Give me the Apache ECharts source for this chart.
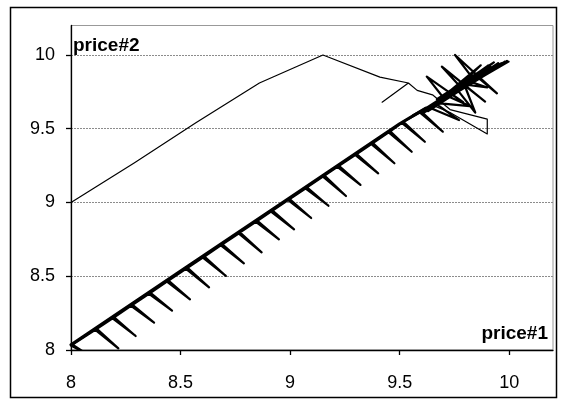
<!DOCTYPE html>
<html>
<head>
<meta charset="utf-8">
<script src="https://cdn.jsdelivr.net/npm/echarts@6/dist/echarts.min.js"></script>
<style>
html,body{margin:0;padding:0;background:#fff;}
#c{width:562px;height:400px;}
</style>
</head>
<body>
<div id="c"></div>
<script>
// axis ticks
var xTicks = [8, 8.5, 9, 9.5, 10];
var yTicks = [8, 8.5, 9, 9.5, 10];
var xName = 'price#1';
var yName = 'price#2';

// path A (upper thin line): price#1 and price#2 values
var price1A = [8.0, 8.29, 8.57, 8.86, 9.15, 9.41, 9.54, 9.42, 9.54, 9.58, 9.65, 9.73, 9.90, 9.90, 9.73, 9.65];
var price2A = [9.0, 9.27, 9.54, 9.81, 10.0, 9.85, 9.81, 9.68, 9.81, 9.76, 9.73, 9.63, 9.565, 9.465, 9.61, 9.66];

// path B (diagonal with whiskers and top-right cluster)
var price1B = [
  8.000, 8.070, 8.007,
  8.111, 8.216, 8.118,
  8.190, 8.295, 8.197,
  8.274, 8.379, 8.281,
  8.356, 8.461, 8.363,
  8.438, 8.543, 8.445,
  8.525, 8.630, 8.532,
  8.602, 8.707, 8.609,
  8.684, 8.789, 8.691,
  8.765, 8.870, 8.772,
  8.844, 8.949, 8.851,
  8.913, 9.018, 8.920,
  8.991, 9.096, 8.998,
  9.070, 9.175, 9.077,
  9.150, 9.255, 9.157,
  9.216, 9.321, 9.223,
  9.297, 9.402, 9.304,
  9.371, 9.476, 9.378,
  9.450, 9.555, 9.457,
  9.510, 9.615, 9.517,
  9.592, 9.697, 9.599,
  9.700, 9.624, 9.790, 9.730,
  9.780, 9.693, 9.890, 9.800,
  9.840, 9.753, 9.944, 9.860,
  9.997, 9.620, 9.950, 9.660, 9.975, 9.640,
  9.771, 9.660, 9.820, 9.720,
  9.900, 9.700, 9.930,
  9.600, 9.980, 9.630, 9.930, 9.670, 9.960, 9.700, 9.905,
  9.650, 9.560, 9.680, 9.850, 9.720, 9.880, 9.760, 9.990,
  9.660, 9.940, 9.690, 9.965, 9.620, 9.915, 9.740, 9.985,
  9.700, 9.870, 9.760, 9.845, 9.795, 9.900, 9.820
];
var price2B = [
  8.030, 7.975, 8.037,
  8.136, 8.011, 8.143,
  8.215, 8.095, 8.222,
  8.299, 8.185, 8.306,
  8.381, 8.267, 8.388,
  8.463, 8.344, 8.470,
  8.550, 8.425, 8.557,
  8.627, 8.502, 8.634,
  8.709, 8.588, 8.716,
  8.790, 8.662, 8.797,
  8.869, 8.750, 8.876,
  8.938, 8.818, 8.945,
  9.016, 8.895, 9.023,
  9.095, 8.978, 9.102,
  9.175, 9.044, 9.182,
  9.241, 9.119, 9.248,
  9.322, 9.198, 9.329,
  9.396, 9.266, 9.403,
  9.475, 9.344, 9.482,
  9.540, 9.412, 9.547,
  9.610, 9.480, 9.617,
  9.710, 9.853, 9.680, 9.740,
  9.780, 9.921, 9.684, 9.790,
  9.830, 10.000, 9.740, 9.845,
  9.955, 9.630, 9.945, 9.660, 9.950, 9.640,
  9.559, 9.675, 9.654, 9.720,
  9.880, 9.700, 9.900,
  9.600, 9.955, 9.620, 9.950, 9.700, 9.940, 9.690, 9.930,
  9.660, 9.590, 9.690, 9.860, 9.720, 9.880, 9.760, 9.960,
  9.665, 9.935, 9.705, 9.945, 9.640, 9.920, 9.760, 9.950,
  9.720, 9.930, 9.770, 9.610, 9.800, 9.780, 9.820
];

// diagonal backbone (upper edge of the thick diagonal)
var price1C = [8.0, 8.5, 9.0, 9.5, 9.62];
var price2C = [8.036, 8.536, 9.034, 9.534, 9.640];

function zip(a, b) { return a.map(function (v, i) { return [v, b[i]]; }); }

var chart = echarts.init(document.getElementById('c'), null, {renderer: 'canvas'});
var font = '"Liberation Sans", Arial, sans-serif';
var axisCommon = {
  type: 'value', min: 8, max: 10.2, interval: 0.5,
  axisLine: {show: true, onZero: false, lineStyle: {color: '#000', width: 1.3}},
  axisTick: {show: true, inside: false, length: 5, lineStyle: {color: '#000', width: 1.3}},
  axisLabel: {color: '#000', fontSize: 18, fontFamily: font},
  splitLine: {show: false}
};
chart.setOption({
  animation: false,
  backgroundColor: '#fff',
  grid: {left: 71, right: 9, top: 25.5, bottom: 50, show: true, borderColor: '#999', borderWidth: 1, backgroundColor: 'transparent'},
  xAxis: Object.assign({}, axisCommon, {
    axisTick: Object.assign({}, axisCommon.axisTick, {customValues: xTicks}),
    axisLabel: Object.assign({}, axisCommon.axisLabel, {customValues: xTicks, margin: 24})
  }),
  yAxis: Object.assign({}, axisCommon, {
    axisTick: Object.assign({}, axisCommon.axisTick, {customValues: yTicks}),
    axisLabel: Object.assign({}, axisCommon.axisLabel, {customValues: yTicks, margin: 16}),
    splitLine: {show: true, lineStyle: {color: '#8c8c8c', type: [2, 1], width: 1}}
  }),
  series: [
    {type: 'line', data: zip(price1A, price2A), showSymbol: false, symbol: 'none', clip: true,
     lineStyle: {color: '#000', width: 1.2, join: 'round'}},
    {type: 'line', data: zip(price1B, price2B), showSymbol: false, symbol: 'none', clip: true,
     lineStyle: {color: '#000', width: 2.2, join: 'round', cap: 'round'}},
    {type: 'line', data: zip(price1C, price2C), showSymbol: false, symbol: 'none', clip: true,
     lineStyle: {color: '#000', width: 3, join: 'round', cap: 'round'}}
  ],
  graphic: [
    {type: 'rect', shape: {x: 10.5, y: 7.5, width: 546, height: 390}, style: {fill: 'none', stroke: '#000', lineWidth: 1.5}, silent: true},
    {type: 'text', left: 73, top: 36, style: {text: yName, font: 'bold 19px ' + font, fill: '#000'}},
    {type: 'text', right: 14, top: 324, style: {text: xName, font: 'bold 19px ' + font, fill: '#000'}}
  ]
});
</script>
</body>
</html>
